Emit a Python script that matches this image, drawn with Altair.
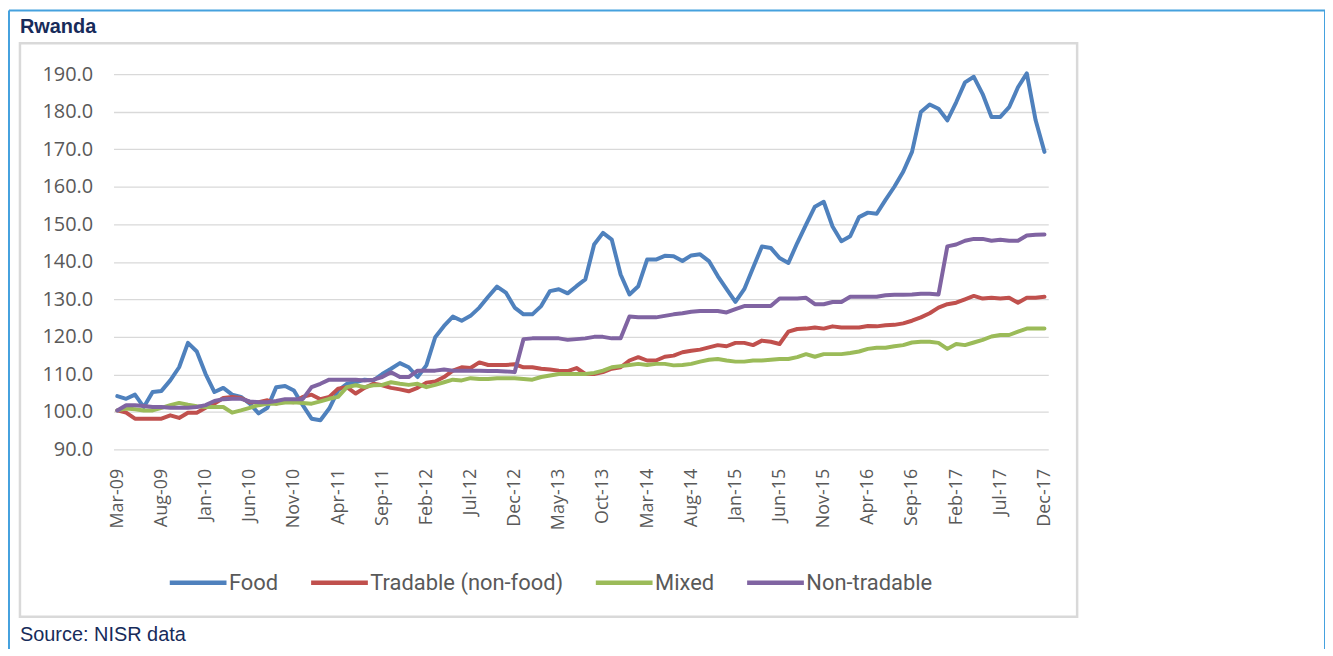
import altair as alt
import pandas as pd

# ---- data -------------------------------------------------------------
months = pd.date_range("2009-03-01", periods=106, freq="MS").strftime("%b-%y").tolist()

tick_labels = ["Mar-09", "Aug-09", "Jan-10", "Jun-10", "Nov-10", "Apr-11", "Sep-11",
               "Feb-12", "Jul-12", "Dec-12", "May-13", "Oct-13", "Mar-14", "Aug-14",
               "Jan-15", "Jun-15", "Nov-15", "Apr-16", "Sep-16", "Feb-17", "Jul-17",
               "Dec-17"]

y_ticks = [90, 100, 110, 120, 130, 140, 150, 160, 170, 180, 190]

series_names = ["Food", "Tradable (non-food)", "Mixed", "Non-tradable"]
series_colors = ["#4F81BD", "#C0504D", "#9BBB59", "#8064A2"]

food = [104.2, 103.5, 104.6, 101.3, 105.3, 105.6, 108.4, 111.9, 118.4, 116.1,
        110.1, 105.3, 106.4, 104.6, 104.0, 102.2, 99.6, 101.1, 106.6, 106.9,
        105.7, 101.8, 98.2, 97.8, 100.9, 105.7, 107.5, 107.9, 108.6, 108.4,
        110.1, 111.5, 113.0, 111.9, 109.3, 112.4, 119.9, 122.9, 125.4, 124.3,
        125.6, 127.8, 130.7, 133.4, 131.8, 127.8, 126.0, 126.0, 128.2, 132.2,
        132.7, 131.6, 133.5, 135.3, 144.6, 147.7, 145.9, 136.6, 131.3, 133.5,
        140.6, 140.6, 141.6, 141.5, 140.2, 141.7, 142.0, 140.2, 136.2, 132.7,
        129.3, 132.7, 138.4, 144.1, 143.7, 141.0, 139.7, 145.0, 149.9, 154.7,
        156.0, 149.4, 145.5, 146.8, 151.9, 153.1, 152.8, 156.5, 160.0, 164.0,
        169.3, 179.9, 181.9, 180.8, 177.7, 182.5, 187.8, 189.3, 184.7, 178.6,
        178.6, 181.2, 186.5, 190.2, 177.7, 169.3]

tradable = [100.4, 99.8, 98.2, 98.2, 98.2, 98.2, 99.1, 98.4, 99.8, 99.8,
            101.1, 102.2, 103.7, 104.0, 103.7, 102.6, 102.6, 103.1, 102.2, 102.8,
            102.6, 104.0, 104.6, 103.4, 104.0, 106.2, 106.6, 104.9, 106.4, 107.5,
            107.1, 106.4, 106.0, 105.5, 106.4, 107.8, 108.1, 109.3, 111.0, 111.9,
            111.7, 113.2, 112.5, 112.5, 112.5, 112.7, 111.9, 111.9, 111.5, 111.3,
            111.0, 110.9, 111.7, 110.1, 110.1, 110.6, 111.5, 111.9, 113.7, 114.6,
            113.7, 113.7, 114.7, 115.0, 115.9, 116.3, 116.6, 117.2, 117.8, 117.5,
            118.4, 118.4, 117.8, 119.0, 118.7, 118.1, 121.4, 122.1, 122.2, 122.5,
            122.2, 122.8, 122.5, 122.5, 122.5, 122.9, 122.8, 123.1, 123.2, 123.6,
            124.3, 125.2, 126.3, 127.8, 128.7, 129.1, 130.0, 130.9, 130.2, 130.4,
            130.2, 130.4, 129.1, 130.4, 130.4, 130.7]

mixed = [100.4, 100.9, 100.7, 100.4, 100.4, 101.1, 101.8, 102.4, 101.9, 101.5,
         101.3, 101.3, 101.3, 99.8, 100.4, 101.1, 101.8, 102.2, 102.2, 102.5,
         102.6, 102.4, 102.2, 102.8, 103.5, 104.0, 106.6, 107.1, 106.6, 107.1,
         107.2, 107.9, 107.5, 107.2, 107.5, 106.6, 107.2, 107.9, 108.6, 108.4,
         109.0, 108.8, 108.8, 109.0, 109.0, 109.0, 108.8, 108.6, 109.3, 109.7,
         110.1, 110.1, 110.1, 110.1, 110.4, 111.0, 111.9, 112.2, 112.5, 112.8,
         112.5, 112.8, 112.8, 112.4, 112.5, 112.8, 113.4, 113.9, 114.1, 113.7,
         113.4, 113.4, 113.7, 113.7, 113.9, 114.1, 114.1, 114.6, 115.4, 114.7,
         115.4, 115.4, 115.4, 115.7, 116.1, 116.8, 117.1, 117.1, 117.5, 117.8,
         118.5, 118.7, 118.7, 118.4, 116.8, 118.1, 117.8, 118.5, 119.2, 120.1,
         120.5, 120.5, 121.4, 122.2, 122.2, 122.2]

non_tradable = [100.4, 101.8, 101.8, 101.6, 101.3, 101.3, 101.1, 101.1, 101.1, 101.3,
                101.8, 102.9, 103.4, 103.5, 103.5, 102.8, 102.6, 102.6, 102.9, 103.4,
                103.4, 103.4, 106.6, 107.5, 108.6, 108.6, 108.6, 108.6, 108.4, 108.6,
                109.3, 110.6, 109.3, 109.3, 111.0, 111.0, 111.0, 111.3, 111.0, 111.0,
                111.0, 111.0, 110.9, 110.9, 110.8, 110.6, 119.4, 119.6, 119.6, 119.6,
                119.6, 119.2, 119.4, 119.6, 120.0, 120.0, 119.6, 119.6, 125.4, 125.2,
                125.2, 125.2, 125.6, 126.0, 126.3, 126.7, 126.9, 126.9, 126.9, 126.5,
                127.4, 128.2, 128.2, 128.2, 128.2, 130.2, 130.2, 130.2, 130.4, 128.7,
                128.7, 129.3, 129.3, 130.7, 130.7, 130.7, 130.7, 131.1, 131.2, 131.2,
                131.3, 131.5, 131.5, 131.3, 144.1, 144.6, 145.6, 146.1, 146.1, 145.6,
                145.9, 145.6, 145.6, 147.0, 147.2, 147.3]

rows = []
for name, vals in zip(series_names, [food, tradable, mixed, non_tradable]):
    for m, v in zip(months, vals):
        rows.append({"month": m, "series": name, "value": v})
df = pd.DataFrame(rows)

dummy = pd.DataFrame({"a": [0]})

TEXT_NAVY = "#172b5a"
GRAY_TXT = "#595959"

# ---- decorations ------------------------------------------------------
inner_box = alt.Chart(dummy).mark_rect(
    fill="transparent", stroke="#d9d9d9", strokeWidth=2.5
).encode(x=alt.value(-94), x2=alt.value(968), y=alt.value(-31), y2=alt.value(545))

frame_top = alt.Chart(dummy).mark_rule(color="#45a1de", strokeWidth=2).encode(
    x=alt.value(-105), x2=alt.value(1217), y=alt.value(-64))
frame_left = alt.Chart(dummy).mark_rule(color="#45a1de", strokeWidth=2).encode(
    x=alt.value(-105), y=alt.value(-64), y2=alt.value(590))
frame_right = alt.Chart(dummy).mark_rule(color="#45a1de", strokeWidth=2).encode(
    x=alt.value(1217), y=alt.value(-64), y2=alt.value(590))

title = alt.Chart(dummy).mark_text(
    align="left", baseline="alphabetic", font="Liberation Sans", fontSize=20,
    fontWeight="bold", color=TEXT_NAVY
).encode(x=alt.value(-94), y=alt.value(-41), text=alt.value("Rwanda"))

source = alt.Chart(dummy).mark_text(
    align="left", baseline="alphabetic", font="Liberation Sans", fontSize=20,
    color=TEXT_NAVY
).encode(x=alt.value(-94), y=alt.value(569), text=alt.value("Source: NISR data"))

# ---- lines ------------------------------------------------------------
lines = alt.Chart(df).mark_line(
    strokeWidth=4, strokeCap="round", strokeJoin="round"
).encode(
    x=alt.X("month:O", sort=months,
            scale=alt.Scale(type="point", padding=0.43),
            axis=alt.Axis(values=tick_labels, labelAngle=270, ticks=False,
                          domain=False, grid=False, labelFont="Open Sans",
                          labelFontSize=18, labelColor=GRAY_TXT, labelPadding=19,
                          title=None)),
    y=alt.Y("value:Q",
            scale=alt.Scale(domain=[90, 190], nice=False, zero=False),
            axis=alt.Axis(values=y_ticks, format=".1f", ticks=False, domain=False,
                          labelFont="Open Sans", labelFontSize=20,
                          labelColor=GRAY_TXT, labelPadding=21,
                          gridColor="#d9d9d9", gridWidth=1.3, title=None)),
    color=alt.Color("series:N",
                    scale=alt.Scale(domain=series_names, range=series_colors),
                    legend=alt.Legend(title=None, orient="none", legendX=54,
                                      legendY=480, direction="horizontal",
                                      symbolType="stroke", symbolSize=3249,
                                      symbolStrokeWidth=4.5, labelFont="Roboto",
                                      labelFontSize=22, labelColor=GRAY_TXT,
                                      columnPadding=23, labelOffset=0,
                                      labelLimit=400, padding=0)),
)

chart = alt.layer(
    inner_box, frame_top, frame_left, frame_right, lines, title, source
).properties(
    width=939, height=377,
    autosize=alt.AutoSizeParams(type="none"),
    padding={"left": 106, "top": 65, "right": 278, "bottom": 199},
    background="white",
).configure_view(strokeWidth=0)

chart.save("out.html", embed_options={"renderer": "svg", "actions": False})
